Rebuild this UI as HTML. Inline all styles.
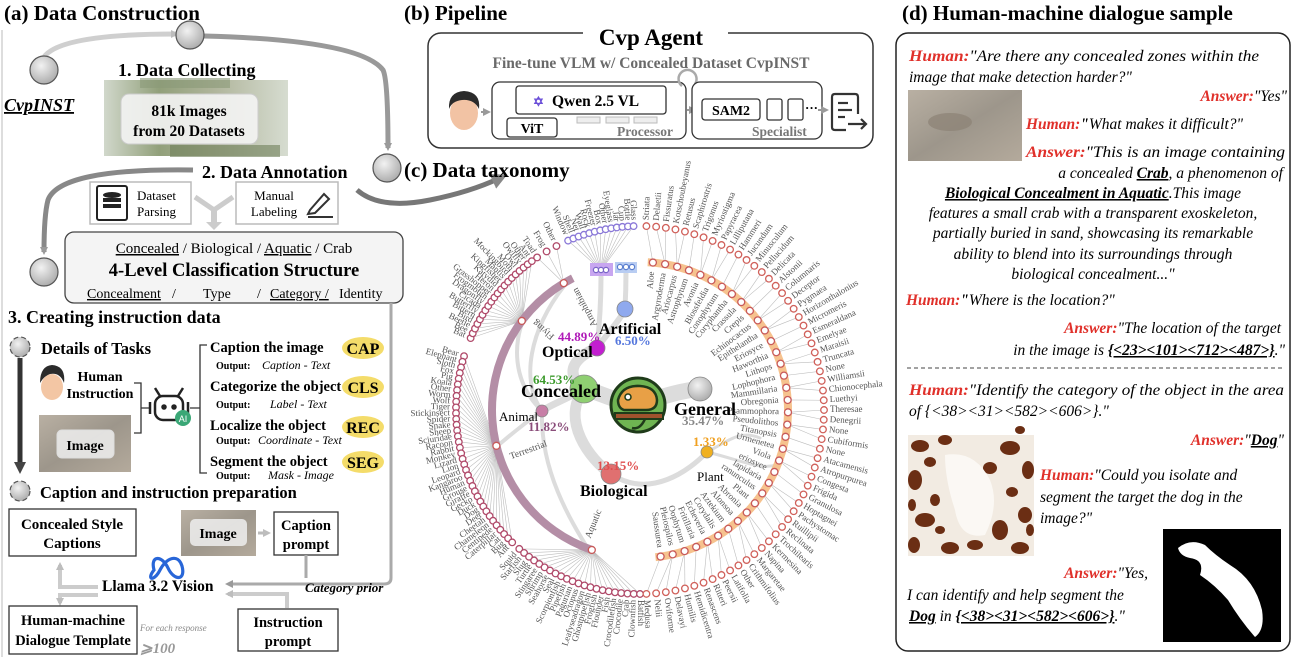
<!DOCTYPE html>
<html><head><meta charset="utf-8">
<style>
html,body{margin:0;padding:0;background:#fff;}
svg{display:block;font-family:"Liberation Serif",serif;}
.b{font-weight:bold;}
.i{font-style:italic;}
.red{fill:#e0302a;font-weight:bold;}
.it text{font-style:italic;}
</style></head>
<body>
<svg id="fig" width="1296" height="657" viewBox="0 0 1296 657" xmlns="http://www.w3.org/2000/svg">
<defs>
<marker id="ag" markerWidth="8" markerHeight="8" refX="5" refY="4" orient="auto" markerUnits="userSpaceOnUse"><path d="M0,0 L8,4 L0,8 z" fill="#9a9a9a"/></marker>
<marker id="al" markerWidth="8" markerHeight="8" refX="5" refY="4" orient="auto" markerUnits="userSpaceOnUse"><path d="M0,0 L8,4 L0,8 z" fill="#bdbdbd"/></marker>
<marker id="ad" markerWidth="12" markerHeight="12" refX="6" refY="6" orient="auto" markerUnits="userSpaceOnUse"><path d="M0,0 L12,6 L0,12 z" fill="#444"/></marker>
<marker id="am" markerWidth="16" markerHeight="16" refX="8" refY="8" orient="auto" markerUnits="userSpaceOnUse"><path d="M0,0 L16,8 L0,16 z" fill="#888"/></marker>
<radialGradient id="gb" cx="40%" cy="35%" r="70%"><stop offset="0" stop-color="#f2f2f2"/><stop offset="1" stop-color="#a9a9a9"/></radialGradient>
<linearGradient id="sand" x1="0" y1="0" x2="1" y2="1"><stop offset="0" stop-color="#b9b0a3"/><stop offset=".5" stop-color="#9d968b"/><stop offset="1" stop-color="#b4aa9c"/></linearGradient>
<linearGradient id="coll" x1="0" y1="0" x2="1" y2="0"><stop offset="0" stop-color="#c9d1c2"/><stop offset=".3" stop-color="#7e8f63"/><stop offset=".6" stop-color="#a2a88a"/><stop offset="1" stop-color="#cfd6c8"/></linearGradient>
</defs>

<!-- ===== Panel A ===== -->
<g>
<line x1="2" y1="30" x2="2" y2="657" stroke="#ddd" stroke-width="2"/>
<text x="4" y="20" font-size="21" class="b">(a) Data Construction</text>
<path d="M44,57 Q60,34 176,34" fill="none" stroke="#cfcfcf" stroke-width="5" marker-end="url(#al)"/>
<path d="M204,36 Q360,40 383,70 Q388,80 388,148" fill="none" stroke="#999" stroke-width="5" marker-end="url(#ag)"/>
<circle cx="44" cy="70" r="14" fill="url(#gb)" stroke="#555" stroke-width="1.2"/>
<circle cx="190" cy="35" r="14" fill="url(#gb)" stroke="#555" stroke-width="1.2"/>
<circle cx="387" cy="168" r="14" fill="url(#gb)" stroke="#555" stroke-width="1.2"/>
<circle cx="44" cy="272" r="14" fill="url(#gb)" stroke="#555" stroke-width="1.2"/>
<text x="4" y="111" font-size="18" class="b i" text-decoration="underline">CvpINST</text>
<text x="118" y="76" font-size="18" class="b">1. Data Collecting</text>
<rect x="104" y="80" width="184" height="76" fill="url(#coll)" opacity=".85"/>
<rect x="140" y="78" width="90" height="10" fill="#8b9a78" opacity=".6"/>
<rect x="170" y="145" width="110" height="12" fill="#6e7f58" opacity=".6"/>
<rect x="121" y="94" width="137" height="50" rx="8" fill="#f4f4f4" fill-opacity=".9" stroke="#ccc"/>
<text x="189" y="116" font-size="15.5" class="b" text-anchor="middle">81k Images</text>
<text x="189" y="136" font-size="15.5" class="b" text-anchor="middle">from 20 Datasets</text>
<text x="202" y="178" font-size="18" class="b">2. Data Annotation</text>
<path d="M193,170 Q60,168 48,200 Q44,215 44,252" fill="none" stroke="#888" stroke-width="5" marker-end="url(#ag)"/>
<path d="M357,190 Q380,210 430,200 Q470,192 500,178" fill="none" stroke="#777" stroke-width="5" marker-end="url(#am)"/>
<rect x="90" y="182" width="101" height="42" fill="#fff" stroke="#bbb" stroke-width="1.5"/>
<rect x="97" y="186" width="30" height="34" rx="2" fill="#fff" stroke="#222" stroke-width="2"/>
<ellipse cx="112" cy="195" rx="9" ry="3" fill="#222"/><rect x="103" y="198" width="18" height="4" fill="#222"/><rect x="103" y="204" width="18" height="4" fill="#222"/>
<text x="137" y="200" font-size="13">Dataset</text><text x="137" y="216" font-size="13">Parsing</text>
<rect x="236" y="182" width="102" height="42" fill="#fff" stroke="#bbb" stroke-width="1.5"/>
<text x="274" y="200" font-size="13" text-anchor="middle">Manual</text><text x="274" y="216" font-size="13" text-anchor="middle">Labeling</text>
<path d="M310,210 L324,194 L329,199 L315,213 L308,214 Z" fill="none" stroke="#333" stroke-width="2"/><line x1="308" y1="217" x2="333" y2="217" stroke="#333" stroke-width="2"/>
<path d="M195,197 L214,210 L233,197" fill="none" stroke="#ccc" stroke-width="5"/>
<line x1="214" y1="210" x2="214" y2="222" stroke="#ccc" stroke-width="6"/><path d="M206,222 L222,222 L214,230 z" fill="#ccc"/>
<rect x="65" y="232" width="338" height="71" rx="9" fill="#f4f4f4" stroke="#444" stroke-width="1.3"/>
<text x="234" y="253" font-size="15" text-anchor="middle"><tspan text-decoration="underline">Concealed</tspan> / Biological / <tspan text-decoration="underline">Aquatic</tspan> / Crab</text>
<text x="234" y="276" font-size="18.5" class="b" text-anchor="middle">4-Level Classification Structure</text>
<text x="87" y="298" font-size="14" text-decoration="underline">Concealment</text><text x="172" y="298" font-size="14">/</text>
<text x="203" y="298" font-size="14">Type</text><text x="257" y="298" font-size="14">/</text>
<text x="270" y="298" font-size="14" text-decoration="underline">Category /</text><text x="339" y="298" font-size="14">Identity</text>
<path d="M391,303 L391,578 Q391,584 384,584 L228,584" fill="none" stroke="#aaa" stroke-width="3" marker-end="url(#ag)"/>
<text x="8" y="323" font-size="18" class="b">3. Creating instruction data</text>
<circle cx="20" cy="347" r="10" fill="url(#gb)" stroke="#555" stroke-dasharray="5 3" stroke-width="1.2"/>
<line x1="20" y1="358" x2="20" y2="468" stroke="#333" stroke-width="5" marker-end="url(#ad)"/>
<text x="41" y="354" font-size="16.5" class="b">Details of Tasks</text>
<g><ellipse cx="52" cy="387" rx="11" ry="13" fill="#f3c6a4"/><path d="M40,383 Q40,366 52,365 Q66,366 64,383 Q60,372 50,374 Q44,376 40,383z" fill="#2b2b2b"/></g>
<text x="100" y="381" font-size="14" class="b" text-anchor="middle">Human</text>
<text x="100" y="398" font-size="14" class="b" text-anchor="middle">Instruction</text>
<rect x="39" y="415" width="92" height="57" fill="url(#sand)"/>
<rect x="57" y="430" width="57" height="28" rx="5" fill="#eee" fill-opacity=".85" stroke="#ddd"/>
<text x="85" y="450" font-size="14" class="b" text-anchor="middle">Image</text>
<path d="M134,383 L141,383 L141,433 L134,433 M141,408 L150,408" fill="none" stroke="#333" stroke-width="1.3"/>
<g fill="none" stroke="#222" stroke-width="2.5"><rect x="155" y="396" width="28" height="24" rx="8"/><line x1="160" y1="396" x2="155" y2="388"/><line x1="178" y1="396" x2="183" y2="388"/><circle cx="164" cy="407" r="1.5" fill="#222"/><circle cx="174" cy="407" r="1.5" fill="#222"/><line x1="150" y1="402" x2="150" y2="414"/><line x1="188" y1="402" x2="188" y2="414"/></g>
<circle cx="183" cy="418" r="8" fill="#3aa776"/><text x="183" y="422" font-size="9" fill="#fff" text-anchor="middle" font-family="Liberation Sans, sans-serif">AI</text>
<path d="M190,408 L200,408 M207,345 L200,345 L200,473 L207,473" fill="none" stroke="#333" stroke-width="1.3"/>
<g>
<text x="210" y="352" font-size="14.5" class="b">Caption the image</text>
<text x="216" y="369" font-size="10" class="b">Output:</text><text x="262" y="369" font-size="12" class="i">Caption - Text</text>
<text x="210" y="391" font-size="14.5" class="b">Categorize the object</text>
<text x="216" y="408" font-size="10" class="b">Output:</text><text x="270" y="408" font-size="12" class="i">Label - Text</text>
<text x="210" y="430" font-size="14.5" class="b">Localize the object</text>
<text x="216" y="444" font-size="10" class="b">Output:</text><text x="258" y="444" font-size="12" class="i">Coordinate - Text</text>
<text x="210" y="466" font-size="14.5" class="b">Segment the object</text>
<text x="216" y="479" font-size="10" class="b">Output:</text><text x="268" y="479" font-size="12" class="i">Mask - Image</text>
</g>
<g font-size="16" font-weight="bold" text-anchor="middle">
<ellipse cx="363" cy="348" rx="21" ry="11" fill="#f4dc6a"/><text x="363" y="354">CAP</text>
<ellipse cx="363" cy="387" rx="21" ry="11" fill="#f4dc6a"/><text x="363" y="393">CLS</text>
<ellipse cx="363" cy="427" rx="21" ry="11" fill="#f4dc6a"/><text x="363" y="433">REC</text>
<ellipse cx="363" cy="462" rx="21" ry="11" fill="#f4dc6a"/><text x="363" y="468">SEG</text>
</g>
<circle cx="20" cy="491" r="10" fill="url(#gb)" stroke="#555" stroke-dasharray="5 3" stroke-width="1.2"/>
<text x="40" y="498" font-size="16.5" class="b">Caption and instruction preparation</text>
<rect x="9" y="509" width="127" height="47" fill="#fff" stroke="#333" stroke-width="1.3"/>
<text x="72" y="529" font-size="15" class="b" text-anchor="middle">Concealed Style</text>
<text x="72" y="548" font-size="15" class="b" text-anchor="middle">Captions</text>
<rect x="181" y="510" width="75" height="46" fill="url(#sand)"/>
<rect x="190" y="519" width="57" height="27" rx="5" fill="#eee" fill-opacity=".85"/>
<text x="218" y="538" font-size="14" class="b" text-anchor="middle">Image</text>
<line x1="258" y1="533" x2="268" y2="533" stroke="#bbb" stroke-width="3" marker-end="url(#al)"/>
<rect x="274" y="512" width="64" height="43" fill="#fff" stroke="#333" stroke-width="1.3"/>
<text x="306" y="530" font-size="14.5" class="b" text-anchor="middle">Caption</text>
<text x="306" y="549" font-size="14.5" class="b" text-anchor="middle">prompt</text>
<path d="M306,555 L306,578" stroke="#aaa" stroke-width="3" fill="none"/>
<path d="M154,570 C150,555 162,555 168,568 C174,581 186,581 182,566 C178,553 166,558 160,570 C154,582 146,580 154,570Z" fill="none" stroke="#2866d8" stroke-width="3.2"/>
<text x="102" y="591" font-size="15.5" class="b">Llama 3.2 Vision</text>
<path d="M98,587 L60,587 L60,565" fill="none" stroke="#ccc" stroke-width="4" marker-end="url(#al)"/>
<path d="M98,595 L60,595 L60,603" fill="none" stroke="#ccc" stroke-width="4" marker-end="url(#al)"/>
<path d="M287,608 L287,594 L228,594" fill="none" stroke="#ccc" stroke-width="4" marker-end="url(#al)"/>
<text x="305" y="592" font-size="13" class="b i">Category prior</text>
<rect x="9" y="606" width="128" height="48" fill="#fff" stroke="#333" stroke-width="1.3"/>
<text x="73" y="625" font-size="14.5" class="b" text-anchor="middle">Human-machine</text>
<text x="73" y="645" font-size="14.5" class="b" text-anchor="middle">Dialogue Template</text>
<text x="140" y="631" font-size="9" class="i" fill="#888">For each response</text>
<text x="140" y="653" font-size="15" class="i b" fill="#999">⩾100</text>
<rect x="238" y="609" width="100" height="42" fill="#fff" stroke="#333" stroke-width="1.3"/>
<text x="288" y="627" font-size="14.5" class="b" text-anchor="middle">Instruction</text>
<text x="288" y="646" font-size="14.5" class="b" text-anchor="middle">prompt</text>
</g>

<!-- ===== Panel B ===== -->
<g>
<text x="404" y="20" font-size="21" class="b">(b) Pipeline</text>
<rect x="428" y="33" width="445" height="115" rx="13" fill="#fff" stroke="#333" stroke-width="1.5"/>
<rect x="583" y="25" width="145" height="22" fill="#fff"/>
<text x="651" y="45" font-size="23" class="b" text-anchor="middle">Cvp Agent</text>
<text x="651" y="68" font-size="15.5" class="b" fill="#6a6a6a" text-anchor="middle">Fine-tune VLM w/ Concealed Dataset CvpINST</text>
<g><ellipse cx="464" cy="113" rx="14" ry="17" fill="#f2c3a4"/><path d="M449,109 Q448,92 464,91 Q481,92 479,109 Q474,99 462,100 Q452,101 449,109z" fill="#2b2b2b"/></g>
<line x1="481" y1="112" x2="488" y2="112" stroke="#999" stroke-width="2" marker-end="url(#ag)"/>
<rect x="492" y="82" width="194" height="57" rx="8" fill="#fff" stroke="#333" stroke-width="1.3"/>
<rect x="516" y="86" width="150" height="28" rx="3" fill="#fff" stroke="#333" stroke-width="1.3"/>
<text x="533" y="106" font-size="13" fill="#6b4fd8" class="b">✡</text>
<text x="552" y="106" font-size="15.5" class="b">Qwen 2.5 VL</text>
<rect x="507" y="118" width="50" height="19" rx="3" fill="#fff" stroke="#333" stroke-width="1.3"/>
<text x="532" y="133" font-size="14" class="b" text-anchor="middle">ViT</text>
<rect x="577" y="117" width="23" height="6" fill="#eee" stroke="#bbb"/><rect x="606" y="117" width="23" height="6" fill="#eee" stroke="#bbb"/><rect x="634" y="117" width="23" height="6" fill="#eee" stroke="#bbb"/>
<text x="617" y="136" font-size="13.5" class="b" fill="#777">Processor</text>
<path d="M682,86 A9,9 0 1 1 695,84" fill="none" stroke="#aaa" stroke-width="2.5"/>
<line x1="687" y1="110" x2="694" y2="110" stroke="#999" stroke-width="2" marker-end="url(#ag)"/>
<rect x="692" y="82" width="130" height="57" rx="8" fill="#fff" stroke="#333" stroke-width="1.3"/>
<rect x="702" y="99" width="58" height="21" rx="3" fill="#fff" stroke="#333" stroke-width="1.3"/>
<text x="731" y="115" font-size="14" class="b" text-anchor="middle">SAM2</text>
<rect x="767" y="99" width="15" height="21" rx="2" fill="#fff" stroke="#333" stroke-width="1.3"/>
<rect x="788" y="99" width="15" height="21" rx="2" fill="#fff" stroke="#333" stroke-width="1.3"/>
<text x="805" y="112" font-size="13" class="b">···</text>
<line x1="818" y1="110" x2="826" y2="110" stroke="#999" stroke-width="2" marker-end="url(#ag)"/>
<text x="752" y="136" font-size="13.5" class="b" fill="#777">Specialist</text>
<g fill="none" stroke="#333" stroke-width="2.2"><path d="M858,114 L858,97 Q858,94 855,94 L835,94 Q832,94 832,97 L832,127 Q832,130 835,130 L846,130"/><line x1="838" y1="103" x2="848" y2="103"/><line x1="838" y1="110" x2="852" y2="110"/><line x1="838" y1="117" x2="845" y2="117"/><line x1="848" y1="124" x2="866" y2="124"/><path d="M861,119 L866,124 L861,129"/></g>
</g>

<!-- ===== Panel C ===== -->
<g id="taxo">
<text x="404" y="177" font-size="21" class="b">(c) Data taxonomy</text>
</g>

<!-- ===== Panel D ===== -->
<g class="it" font-size="15.5">
<text x="902" y="20" font-size="21" style="font-style:normal" class="b">(d) Human-machine dialogue sample</text>
<rect x="896" y="33" width="394" height="618" rx="12" fill="#fff" stroke="#222" stroke-width="1.5"/>
<text x="909" y="61" textLength="350" lengthAdjust="spacingAndGlyphs"><tspan class="red">Human:</tspan>"Are there any concealed zones within the</text>
<text x="909" y="82">image that make detection harder?"</text>
<text x="1287" y="101" text-anchor="end"><tspan class="red">Answer:</tspan>"Yes"</text>
<rect x="908" y="90" width="114" height="71" fill="url(#sand)"/>
<ellipse cx="950" cy="122" rx="22" ry="9" fill="#8c8275" opacity=".7"/>
<text x="1026" y="129"><tspan class="red">Human:</tspan><tspan font-weight="bold">"</tspan>What makes it difficult?"</text>
<text x="1026" y="157" textLength="259" lengthAdjust="spacingAndGlyphs"><tspan class="red">Answer:</tspan>"This is an image containing</text>
<text x="1283" y="178" text-anchor="end">a concealed <tspan font-weight="bold" text-decoration="underline">Crab</tspan>, a phenomenon of</text>
<text x="1093" y="198" text-anchor="middle"><tspan font-weight="bold" text-decoration="underline">Biological Concealment in Aquatic</tspan>.This image</text>
<text x="1093" y="218" text-anchor="middle">features a small crab with a transparent exoskeleton,</text>
<text x="1093" y="238" text-anchor="middle">partially buried in sand, showcasing its remarkable</text>
<text x="1093" y="259" text-anchor="middle">ability to blend into its surroundings through</text>
<text x="1093" y="279" text-anchor="middle">biological concealment..."</text>
<text x="906" y="305"><tspan class="red">Human:</tspan><tspan font-weight="bold">"</tspan>Where is the location?"</text>
<text x="1281" y="333" text-anchor="end"><tspan class="red">Answer:</tspan>"The location of the target</text>
<text x="1285" y="355" text-anchor="end">in the image is <tspan text-decoration="underline" font-weight="bold">{&lt;23&gt;&lt;101&gt;&lt;712&gt;&lt;487&gt;}</tspan>."</text>
<line x1="907" y1="368" x2="1283" y2="368" stroke="#444" stroke-dasharray="4 3"/>
<text x="909" y="395" textLength="375" lengthAdjust="spacingAndGlyphs"><tspan class="red">Human:</tspan>"Identify the category of the object in the area</text>
<text x="909" y="416">of {&lt;38&gt;&lt;31&gt;&lt;582&gt;&lt;606&gt;}."</text>
<text x="1284" y="445" text-anchor="end"><tspan class="red">Answer:</tspan>"<tspan font-weight="bold" text-decoration="underline">Dog</tspan>"</text>
<g>
<rect x="908" y="435" width="126" height="121" fill="#f2ebe2"/>
<g fill="#6b2e14">
<ellipse cx="920" cy="446" rx="9" ry="6"/><ellipse cx="945" cy="440" rx="7" ry="5"/><ellipse cx="1010" cy="448" rx="10" ry="7"/><ellipse cx="1028" cy="470" rx="6" ry="9"/>
<ellipse cx="915" cy="480" rx="7" ry="10"/><ellipse cx="925" cy="520" rx="10" ry="7"/><ellipse cx="914" cy="545" rx="6" ry="8"/><ellipse cx="950" cy="548" rx="9" ry="6"/>
<ellipse cx="1000" cy="530" rx="8" ry="10"/><ellipse cx="1025" cy="515" rx="7" ry="8"/><ellipse cx="1020" cy="548" rx="9" ry="6"/><ellipse cx="990" cy="468" rx="7" ry="6"/>
<ellipse cx="935" cy="500" rx="5" ry="6"/><ellipse cx="1012" cy="492" rx="6" ry="5"/><ellipse cx="975" cy="545" rx="8" ry="5"/>
<ellipse cx="930" cy="462" rx="6" ry="5"/><ellipse cx="1020" cy="430" rx="5" ry="4"/><ellipse cx="912" cy="505" rx="4" ry="6"/><ellipse cx="940" cy="530" rx="5" ry="4"/><ellipse cx="1030" cy="530" rx="4" ry="6"/></g>
<path d="M945,455 Q975,450 990,480 Q1000,505 985,535 Q960,540 955,510 Q945,480 945,455Z" fill="#fbf8f4"/>
</g>
<text x="1040" y="480"><tspan class="red">Human:</tspan>"Could you isolate and</text>
<text x="1040" y="502">segment the target the dog in the</text>
<text x="1040" y="523">image?"</text>
<g>
<rect x="1163" y="529" width="118" height="113" fill="#000"/>
<path d="M1178,548 Q1190,538 1205,545 Q1215,555 1230,565 Q1255,580 1262,610 Q1265,630 1255,637 Q1240,620 1228,600 Q1215,585 1200,575 Q1205,560 1190,558 Q1180,556 1178,548Z" fill="#fff"/>
</g>
<text x="1148" y="578" text-anchor="end"><tspan class="red">Answer:</tspan>"Yes,</text>
<text x="907" y="600">I can identify and help segment the</text>
<text x="909" y="621"><tspan font-weight="bold" text-decoration="underline">Dog</tspan> in <tspan text-decoration="underline" font-weight="bold">{&lt;38&gt;&lt;31&gt;&lt;582&gt;&lt;606&gt;}</tspan>."</text>
</g>
</svg>

<script>
// ---- taxonomy data ----
const flyingLeaves = ["Bat","Bee","Beetle","Bird","Bittern","Butterfly","Cicada","Dragonfly","Frogmouth","Grasshopper","Heron","Katydid","Kingfisher","Mantis","Mockingbird","Moth","Owl","Owlfly","Other","Ant"];
const terrestrialLeaves = ["Bear","Elephant","Sloth","Fox","Pig","Koala","Other","Worm","Wolf","Tiger","Stickinsect","Spider","Snake","Sheep","Sciuridae","Racoon","Rabbit","Monkey","Lizard","Lion","Leopard","Kangaroo","Human","Grouse","Giraffe","Gecko","Duck","Dog","Deer","Cheetah","Chameleon","Centipede","Caterpillar","Cat","Bug","Ant"];
const aquaticLeaves = ["Squid","Starfish","Slug","Turtle","Stingaree","Shrimp","Seahorse","Seal","Scorpionfish","Pipefish","Pagurian","Octopus","Leafyseadragon","Ghostpipefish","Frogfish","Flounder","Fish","Crocodilefish","Crocodile","Crab","Clownfish","Batfish"];
const amphibianLeaves = ["Toad","Frog","Other"];
const opticalLeaves = ["Window","Shell","Net","Wall","Rock","Freezer","Box","Other","Eyeglass","Jar","Cup","Bottle","Glass"];
const plantNodes = ["Aloe","Argyroderma","Ariocarpus","Astrophytum","Avonia","Blossfeldia","Conophytum","Coryphantha","Crassula","Crepis","Echinocactus","Epithelantha","Eriosyce","Haworthia","Lithops","Lophophora","Mammillaria","Obregonia","Psammophora","Pseudolithos","Titanopsis","Urmenetea","Viola","eriosyce","lapidaria","ranunculus","Plant","Abronia","Alonsoa","Aztekium","Corydalis","Echeveria","Fritillaria","Oophytum","Pleiospilos","Saussurea"];
const plantLeaves = ["Striata","Delaetii","Fissuratus","Kotschoubeyanus","Retusus","Scaphirostris","Trigonus","Myriostigma","Papyracea","Lilliputana","Hammeri","Jucundum","Minusculum","Pellucidum","Delicata","Alstonii","Columnaris","Deceptor","Pygmaea","Horizonthalonius","Micromeris","Esmeraldana","Emelyae","Maraisii","Truncata","None","Williamsii","Chionocephala","Luethyi","Theresae","Denegrii","None","Cubiformis","None","Atacamensis","Atropurpurea","Congesta","Frigida","Granulosa","Hoptagnei","Pachystomac","Ruillipii","Reclinata","Trochilearis","Kermesina","Napina","Margaretae","Crithmifolius","Other","Latifolia","Peersii","Ritteri","Renascens","Hemidicentra","Humilis","Delavayi","Oviforme","Nelii","Medusa"];
const topNames = ["Concealed","General","Optical","Artificial","Animal","Biological","Plant"];
const topPercents = ["64.53%","35.47%","44.89%","6.50%","11.82%","13.15%","1.33%"];

const NS = "http://www.w3.org/2000/svg";
const G = document.getElementById("taxo");
const CX = 640, CY = 410, RA = 148, RL = 184;
function pol(a, r){ const t = a*Math.PI/180; return [CX + r*Math.cos(t), CY + r*Math.sin(t)]; }
function mk(tag, attrs, parent){ const e = document.createElementNS(NS, tag); for (const k in attrs) e.setAttribute(k, attrs[k]); (parent||G).appendChild(e); return e; }

const links = mk("g", {});



const trunk = [
 ["M638,405 C610,400 600,392 584,389",16],["M638,405 C665,395 685,390 700,389",16],
 ["M584,389 C560,370 580,355 597,348",11],["M597,348 C610,330 620,320 625,309",6],
 ["M584,389 C560,420 590,460 611,474",11],["M584,389 C565,400 550,405 542,411",7],
 ["M611,474 C650,500 690,470 707,452",5],["M597,348 C600,320 601,300 601,277",5],
 ["M625,309 C626,290 626,280 626,270",5],["M542,411 C520,380 530,330 564,286",4],
 ["M542,411 C510,380 515,340 523,321",4],["M542,411 C515,430 505,440 496,447",4],
 ["M542,411 C540,470 570,520 590,552",4],["M707,452 C740,460 760,470 776,465",3],
 ["M707,452 C730,440 740,430 760,438",3]
];
trunk.forEach(t => mk("path", {d:t[0], fill:"none", stroke:"#dcdcdc", "stroke-width":t[1], "stroke-linecap":"round"}, links));

function arcPath(a0, a1, r){ const p0 = pol(a0,r), p1 = pol(a1,r); const large = Math.abs(a1-a0) > 180 ? 1 : 0; return `M${p0[0]},${p0[1]} A${r},${r} 0 ${large} 1 ${p1[0]},${p1[1]}`; }
const pa = mk("path", {d:arcPath(109, 243, RA), fill:"none", stroke:"#b48ea6", "stroke-width":8});


const oa = mk("path", {d:arcPath(-87, 84, RA), fill:"none", stroke:"#f6c28e", "stroke-width":8});


mk("rect", {x:590, y:263, width:23, height:13, fill:"#c8a6f0"});
mk("rect", {x:615, y:262, width:22, height:11, fill:"#b9cdf2"});

function leafLabel(a, r, txt, size){
  const p = pol(a, r); let rot = a, anchor = "start";
  let aa = ((a % 360) + 360) % 360;
  if (aa > 90 && aa < 270){ rot = a + 180; anchor = "end"; }
  const t = mk("text", {x:p[0], y:p[1], "font-size":size||9, fill:"#555", "text-anchor":anchor, "dominant-baseline":"middle", transform:`rotate(${rot},${p[0]},${p[1]})`});
  t.textContent = txt;
  return t;
}
function group(labels, a0, a1, parent, color, name){
  const g = mk("g", {});
  
  
  labels.forEach((lab, i) => {
    const a = labels.length > 1 ? a0 + (a1 - a0) * i / (labels.length - 1) : a0;
    const p = pol(a, RL);
    mk("line", {x1:parent[0], y1:parent[1], x2:p[0], y2:p[1], stroke:"#bdbdbd", "stroke-width":0.6}, links);
    const c = mk("circle", {cx:p[0], cy:p[1], r:3.3, fill:"#fff", stroke:color, "stroke-width":1.3}, g);
    
    
    const t = leafLabel(a, RL + 6, lab);
    g.appendChild(t);
  });
}
function catNode(a, label){
  const p = pol(a, RA);
  mk("circle", {cx:p[0], cy:p[1], r:3.5, fill:"#fff", stroke:"#c85a5a", "stroke-width":1.3});
  if (label){ const q = pol(a, RA - 9); const t = mk("text", {x:q[0], y:q[1], "font-size":9, fill:"#555", "text-anchor":"end", "dominant-baseline":"middle", transform:`rotate(${a},${q[0]},${q[1]})`}); t.textContent = label; }
  return p;
}
group(flyingLeaves, -157, -126, catNode(-143, ""), "#b04a6a", "flying-leaves");
group(terrestrialLeaves, 197, 134, catNode(166, ""), "#b04a6a", "terrestrial-leaves");
group(aquaticLeaves, 131, 90, catNode(109, ""), "#b04a6a", "aquatic-leaves");
group(amphibianLeaves, -124, -117, catNode(-121, ""), "#b04a6a", "amphibian-leaves");
group(opticalLeaves, -113, -92, [601, 270], "#8a78d8", "optical-leaves");
[["Flying",-140],["Terrestrial",160],["Aquatic",112],["Amphibian",-118]].forEach(s => {
  const q = pol(s[1], RA - 10); const rr = s[1] > 90 && s[1] < 270 ? s[1] + 180 : s[1];
  const t = mk("text", {x:q[0], y:q[1], "font-size":9.5, fill:"#555", "text-anchor": s[1] > 90 && s[1] < 270 ? "start" : "end", "dominant-baseline":"middle", transform:`rotate(${rr},${q[0]},${q[1]})`}); t.textContent = s[0];
});
[596,601,606].forEach(x => mk("circle", {cx:x, cy:270, r:2.6, fill:"#fff", stroke:"#7a66c8", "stroke-width":1.2}));
[620,626,632].forEach(x => mk("circle", {cx:x, cy:267, r:2.6, fill:"#fff", stroke:"#5b7fd0", "stroke-width":1.2}));

const nodePos = plantNodes.map((lab, i) => catNode(-85 + 167 * i / (plantNodes.length - 1), lab));
const pg = mk("g", {});


plantLeaves.forEach((lab, i) => {
  const a = -88 + 176 * i / (plantLeaves.length - 1);
  const p = pol(a, RL);
  const parent = nodePos[Math.min(nodePos.length - 1, Math.round(i * (nodePos.length - 1) / (plantLeaves.length - 1)))];
  mk("line", {x1:parent[0], y1:parent[1], x2:p[0], y2:p[1], stroke:"#bdbdbd", "stroke-width":0.6}, links);
  const c = mk("circle", {cx:p[0], cy:p[1], r:3.3, fill:"#fff", stroke:"#d0605a", "stroke-width":1.3}, pg);
  
  
  pg.appendChild(leafLabel(a, RL + 6, lab));
});

const nodeCircles = [[584,389,14,"#8fcf72"],[700,389,12,"url(#gb)"],[597,348,8,"#c21fd0"],[625,309,8,"#8fa9ee"],[542,411,6,"#c77ea6"],[611,474,10,"#e07070"],[707,452,6,"#f0b020"]];
const labelSpecs = [
 [[521,397,18,"#000","bold"],[533,384,13,"#3c9a2c","bold"]],
 [[674,415,18,"#000","bold"],[682,425,13,"#888","bold"]],
 [[542,357,16,"#000","bold"],[558,341,13,"#b01ab8","bold"]],
 [[599,334,16,"#000","bold"],[615,345,13,"#5577dd","bold"]],
 [[499,421,13,"#000","normal"],[528,431,13,"#8a4d7a","bold"]],
 [[580,496,16,"#000","bold"],[597,470,13,"#e05050","bold"]],
 [[697,481,13,"#000","normal"],[693,446,13,"#f0a020","bold"]]
];
topNames.forEach((nm, i) => {
  const nc = nodeCircles[i];
  const c = mk("circle", {cx:nc[0], cy:nc[1], r:nc[2], fill:nc[3], stroke:"#888", "stroke-width":0.8});
  
  
  const s = labelSpecs[i];
  const t1 = mk("text", {x:s[0][0], y:s[0][1], "font-size":s[0][2], fill:s[0][3], "font-weight":s[0][4]}); t1.textContent = nm;
  const t2 = mk("text", {x:s[1][0], y:s[1][1], "font-size":s[1][2], fill:s[1][3], "font-weight":s[1][4]}); t2.textContent = topPercents[i];
});
const cg = mk("g", {});


mk("circle", {cx:638, cy:405, r:27, fill:"#6fb552", stroke:"#1f3b1a", "stroke-width":3}, cg);
mk("path", {d:"M618,400 Q622,385 640,386 Q656,387 657,400 Q657,410 646,410 L624,410 Q618,408 618,400Z", fill:"#e8a046", stroke:"#1f3b1a", "stroke-width":2.5}, cg);
mk("circle", {cx:628, cy:397, r:3, fill:"#fff", stroke:"#1f3b1a", "stroke-width":1.5}, cg);
mk("rect", {x:615, y:413, width:48, height:6, fill:"#a0522d", stroke:"#1f3b1a", "stroke-width":2}, cg);
mk("path", {d:"M645,419 Q640,430 632,428", fill:"none", stroke:"#1f3b1a", "stroke-width":2.5}, cg);
</script>
</body></html>
